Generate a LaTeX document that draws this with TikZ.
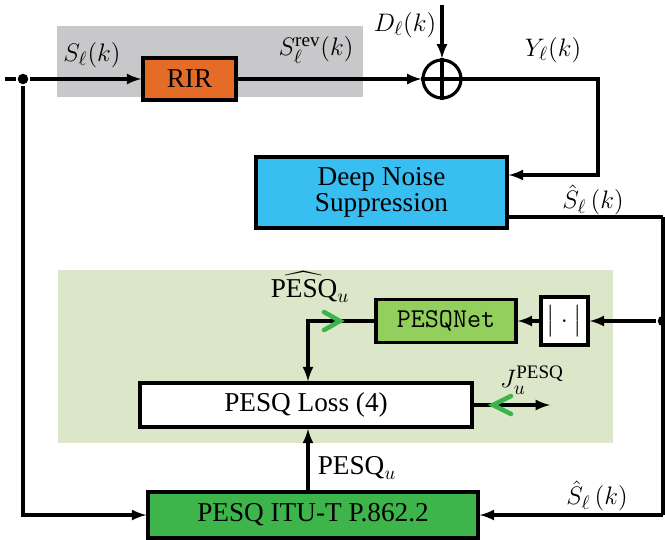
\documentclass[tikz,border=0pt]{standalone}
\usepackage{amsmath}
\usepackage{fontspec}
\setmainfont{Liberation Serif}
\usepackage{tikz}
\usetikzlibrary{positioning, arrows, calc}
\definecolor{revgray}{RGB}{200,200,202}
\definecolor{rirorange}{RGB}{228,108,38}
\definecolor{dnscyan}{RGB}{56,190,240}
\definecolor{lossbg}{RGB}{220,230,200}
\definecolor{netgreen}{RGB}{146,207,92}
\definecolor{itugreen}{RGB}{61,181,74}
\definecolor{chevgreen}{RGB}{60,180,75}
\tikzset{
>=latex, % filled arrow heads
block/.style={draw, rectangle, line width=2pt, align=center}, % sets the properties for each block
dot/.style={circle, fill=black, inner sep=0pt, minimum size=6pt}, % branching points
chev/.style={draw=chevgreen, line width=2.6pt, line cap=round}, % green gradient marks
lbl/.style={inner sep=0pt}, % signal names
}

\begin{document}
\begin{tikzpicture}[x=0.02cm, y=-0.02cm, line width=1.8pt, font=\fontsize{15.5}{18}\selectfont]
        \useasboundingbox (0,0) rectangle (665,539);

        % Backgrounds
        \fill[revgray] (57,26) rectangle (363,97);
        \fill[lossbg] (58,270) rectangle (613,443);

        % Reverberation path
        \coordinate (in) at (5,79);
        \node[dot] (split) at (23,79) {};
        \node[block, fill=rirorange, minimum width=1.86cm, minimum height=0.84cm] (rir) at (189.5,79) {RIR};
        \node[draw, circle, minimum size=0.76cm, inner sep=0pt] (sum) at (442,79) {};
        \draw (sum.north) -- (sum.south);
        \draw (sum.west) -- (sum.east);
        \coordinate (dtop) at (442,5);

        \draw (in) -- (split);
        \draw[->] (split) -- (rir);
        \draw[->] (rir) -- (sum);
        \draw[->] (dtop) -- (sum);

        \node[lbl] (s) at (92,55) {$S_\ell(k)$};
        \node[lbl] (srev) at (316,50) {$S_\ell^{\text{rev}}(k)$};
        \node[lbl] (d) at (405,25) {$D_\ell(k)$};
        \node[lbl] (y) at (553,50) {$Y_\ell(k)$};

        % Deep noise suppression
        \node[block, fill=dnscyan, minimum width=5.02cm, minimum height=1.42cm, font=\fontsize{15.5}{13}\selectfont] (dns) at (381.5,192.5) {Deep Noise\\Suppression};
        \coordinate (ycorner) at (598,79);
        \coordinate (dnsin) at (598,175);
        \coordinate (outcorner) at (663,217);
        \draw[->] (sum) -- (ycorner) -- (dnsin) -- (dns.east |- dnsin);
        \draw (dns.east |- outcorner) -- (outcorner);
        \node[lbl] (shat) at (593,200) {$\hat{S}_\ell\,(k)$};

        % PESQNet branch
        \node[dot] (tap) at (663,321) {};
        \node[block, fill=white, minimum width=0.94cm, minimum height=0.96cm] (abs) at (564.5,321) {$\big|\cdot\big|$};
        \node[block, fill=netgreen, minimum width=2.8cm, minimum height=0.86cm] (net) at (446,321) {\texttt{PESQNet}};
        \node[block, fill=white, minimum width=6.64cm, minimum height=0.88cm] (loss) at (306,405) {PESQ Loss (4)};
        \coordinate (hatcorner) at (308,321);
        \coordinate (jout) at (550,405);

        \draw[->] (tap) -- (abs);
        \draw[->] (abs) -- (net);
        \draw[->] (net) -- (hatcorner) -- (hatcorner |- loss.north);
        \draw[->] (loss) -- (jout);
        \draw[chev] (324,312) -- (340,321) -- (324,330);
        \draw[chev] (511,396) -- (493,405) -- (511,414);

        \node[lbl] (pesqhat) at (310,287) {$\widehat{\text{PESQ}}_u$};
        \node[lbl] (j) at (532,380) {$J_u^{\text{PESQ}}$};

        % Instrumental PESQ
        \node[block, fill=itugreen, minimum width=6.6cm, minimum height=0.92cm] (itu) at (313,515) {PESQ ITU-T P.862.2};
        \coordinate (botleft) at (23,515);
        \coordinate (botright) at (663,515);

        \draw[->] (split) -- (botleft) -- (itu);
        \draw (outcorner) -- (botright);
        \draw[->] (botright) -- (itu);
        \draw[->] (hatcorner |- itu.north) -- (hatcorner |- loss.south);

        \node[lbl] (pesq) at (357,468) {$\text{PESQ}_u$};
        \node[lbl] (shat2) at (597,496) {$\hat{S}_\ell\,(k)$};
    \end{tikzpicture}
\end{document}
